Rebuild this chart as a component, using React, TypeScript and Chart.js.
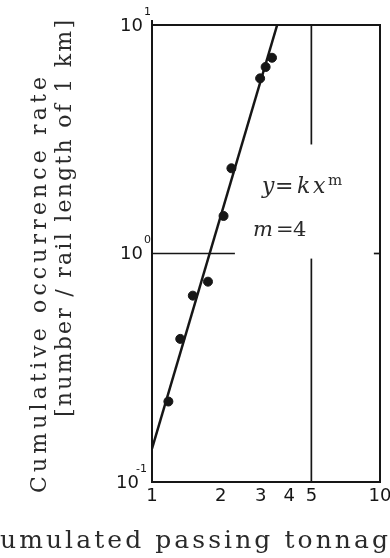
import { useEffect, useRef } from "react";
import { Chart, registerables } from "chart.js";

Chart.register(...registerables);

// Measured defects: cumulative tonnage vs. cumulative occurrence rate
const tonnage = [1.18, 1.33, 1.51, 1.76, 2.06, 2.23, 2.98, 3.15, 3.36];
const occurrence = [0.225, 0.423, 0.654, 0.753, 1.46, 2.36, 5.84, 6.55, 7.19];

// Fitted power law y = k x^m
const fitTonnage = [1, 3.54];
const fitOccurrence = [0.14, 10];

// Axis ticks
const xTicks = [1, 2, 3, 4, 5, 10];
const yTicks = [0.1, 1, 10];
const yExponents = ["-1", "0", "1"];

// Reference line pieces (y = 1 and x = 5)
const unityLineX = [1, 2.31];
const unityStubX = [9.4, 10];
const fiveUpperY = [3, 10];
const fiveLowerY = [0.1, 0.95];

const INK = "#161616";
const TEXT = "#2a2a2a";

function drawFitted(
  ctx: CanvasRenderingContext2D,
  text: string,
  x: number,
  y: number,
  width: number,
  prefix = "",
  suffix = ""
) {
  const chars = [...text];
  const widths = chars.map((c) => ctx.measureText(c).width);
  const total = widths.reduce((s, w) => s + w, 0);
  const gap = chars.length > 1 ? (width - total) / (chars.length - 1) : 0;
  // characters placed before the fitted run
  let px = x;
  const pre = [...prefix];
  for (let i = pre.length - 1; i >= 0; i--) {
    px -= ctx.measureText(pre[i]).width + gap;
    ctx.fillText(pre[i], px, y);
  }
  let cx = x;
  chars.forEach((c, i) => {
    ctx.fillText(c, cx, y);
    cx += widths[i] + gap;
  });
  for (const c of suffix) {
    ctx.fillText(c, cx, y);
    cx += ctx.measureText(c).width + gap;
  }
}

const framePlugin = {
  id: "frame",
  beforeDatasetsDraw(chart: any) {
    const { ctx, chartArea: a, scales } = chart;
    const xs = scales.x;
    const ys = scales.y;
    ctx.save();
    ctx.strokeStyle = INK;
    ctx.lineWidth = 2;
    ctx.beginPath();
    ctx.moveTo(a.left, a.top - 5);
    ctx.lineTo(a.left, a.bottom);
    ctx.lineTo(a.right, a.bottom);
    ctx.lineTo(a.right, a.top);
    ctx.lineTo(a.left, a.top);
    ctx.stroke();

    ctx.lineWidth = 1.7;
    const seg = (x1: number, y1: number, x2: number, y2: number) => {
      ctx.beginPath();
      ctx.moveTo(xs.getPixelForValue(x1), ys.getPixelForValue(y1));
      ctx.lineTo(xs.getPixelForValue(x2), ys.getPixelForValue(y2));
      ctx.stroke();
    };
    seg(unityLineX[0], 1, unityLineX[1], 1);
    seg(unityStubX[0], 1, unityStubX[1], 1);
    seg(5, fiveUpperY[0], 5, fiveUpperY[1]);
    seg(5, fiveLowerY[0], 5, fiveLowerY[1]);
    ctx.restore();
  },
  afterDraw(chart: any) {
    const { ctx, scales } = chart;
    const xs = scales.x;
    const ys = scales.y;
    ctx.save();

    // x tick labels
    ctx.fillStyle = INK;
    ctx.font = "18px 'DejaVu Sans'";
    ctx.textAlign = "center";
    ctx.textBaseline = "middle";
    xTicks.forEach((v) => {
      ctx.fillText(String(v), xs.getPixelForValue(v), 496);
    });

    // y tick labels: 10 with exponent
    yTicks.forEach((v, i) => {
      const py = ys.getPixelForValue(v);
      ctx.font = "18px 'DejaVu Sans'";
      ctx.textAlign = "right";
      ctx.textBaseline = "middle";
      const baseRight = i === 0 ? 139 : 143;
      ctx.fillText("10", baseRight, py + 1);
      ctx.font = "11px 'DejaVu Sans'";
      ctx.textAlign = "left";
      ctx.fillText(yExponents[i], baseRight - (i === 0 ? 3 : -1), py - 13);
    });

    // axis titles
    ctx.fillStyle = TEXT;
    ctx.textAlign = "left";
    ctx.textBaseline = "alphabetic";
    ctx.font = "22px 'DejaVu Serif'";
    ctx.save();
    ctx.translate(46, 493);
    ctx.rotate(-Math.PI / 2);
    drawFitted(ctx, "Cumulative occurrence rate", 0, 0, 416);
    ctx.restore();
    ctx.save();
    ctx.translate(71, 417);
    ctx.rotate(-Math.PI / 2);
    drawFitted(ctx, "[number / rail length of 1 km]", 0, 0, 397);
    ctx.restore();

    ctx.font = "25px 'DejaVu Serif'";
    drawFitted(ctx, "umulated passing tonnag", 0, 548, 388, "Acc", "e");

    // power-law annotation
    ctx.fillStyle = TEXT;
    const it = "italic 22px 'DejaVu Serif'";
    const rm = "22px 'DejaVu Serif'";
    ctx.font = it;
    ctx.fillText("y", 262, 193);
    ctx.font = rm;
    ctx.fillText("=", 275, 193);
    ctx.font = it;
    ctx.fillText("k", 297, 193);
    ctx.fillText("x", 313, 193);
    ctx.font = "15px 'DejaVu Serif'";
    ctx.fillText("m", 328, 185);

    ctx.font = "italic 21px 'DejaVu Serif'";
    ctx.fillText("m", 253, 236);
    ctx.font = "21px 'DejaVu Serif'";
    ctx.fillText("=", 276, 236);
    ctx.fillText("4", 293, 236);

    ctx.restore();
  },
};

export default function App() {
  const canvasRef = useRef<HTMLCanvasElement | null>(null);

  useEffect(() => {
    document.body.style.margin = "0";
    const canvas = canvasRef.current;
    if (!canvas) return;
    const chart = new Chart(canvas, {
      type: "scatter",
      data: {
        datasets: [
          {
            label: "measured",
            data: tonnage.map((x, i) => ({ x, y: occurrence[i] })),
            backgroundColor: INK,
            borderColor: INK,
            pointRadius: 4.5,
            pointHoverRadius: 4.5,
            showLine: false,
          },
          {
            label: "fit",
            data: fitTonnage.map((x, i) => ({ x, y: fitOccurrence[i] })),
            borderColor: INK,
            borderWidth: 2.5,
            pointRadius: 0,
            showLine: true,
          },
        ],
      },
      options: {
        animation: false,
        responsive: true,
        maintainAspectRatio: false,
        layout: { padding: { left: 152, top: 25, right: 10, bottom: 76 } },
        plugins: {
          legend: { display: false },
          tooltip: { enabled: false },
        },
        scales: {
          x: { type: "logarithmic", min: 1, max: 10, display: false },
          y: { type: "logarithmic", min: 0.1, max: 10, display: false },
        },
      },
      plugins: [framePlugin],
    });
    return () => chart.destroy();
  }, []);

  return (
    <div
      style={{
        position: "fixed",
        left: 0,
        top: 0,
        width: 390,
        height: 558,
        background: "#fff",
      }}
    >
      <canvas ref={canvasRef} />
    </div>
  );
}
